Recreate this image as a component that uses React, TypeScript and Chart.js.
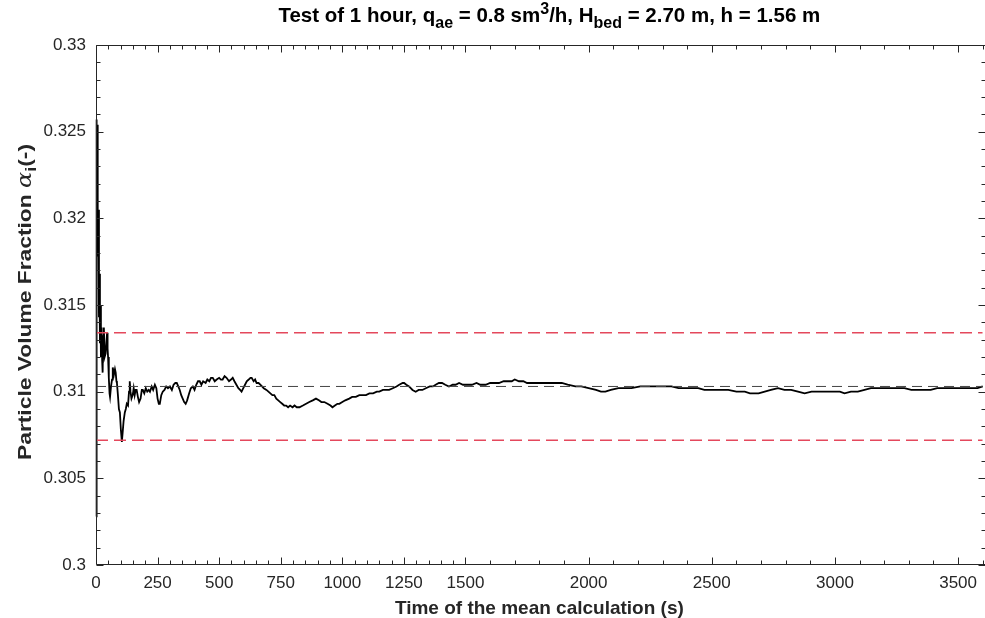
import { useEffect, useRef } from "react";
import { Chart, registerables } from "chart.js";

Chart.register(...registerables);

// Running mean of the particle volume fraction over the test hour
const TIME_S = [
  0, 1, 2, 3, 4, 5, 6, 7, 8, 10, 12, 14, 16, 18, 20, 23, 25, 27, 29, 32, 35, 39, 42, 45, 47, 49, 52, 55, 57, 61,
  65, 67, 69, 73, 77, 80, 83, 85, 89, 93, 97, 101, 105, 108, 112, 117, 121, 125, 130, 134, 137, 140, 144, 149, 153,
  157, 161, 165, 170, 175, 181, 186, 190, 196, 202, 208, 214, 219, 226, 232, 239, 245, 250, 255, 259, 265, 271, 278,
  285, 292, 300, 308, 315, 322, 328, 334, 340, 346, 352, 358, 364, 370, 378, 385, 393, 400, 407, 414, 421, 428, 435,
  445, 452, 460, 467, 474, 482, 490, 500, 507, 514, 522, 530, 540, 548, 555, 562, 570, 578, 585, 591, 598, 605, 612,
  620, 627, 632, 640, 646, 652, 660, 667, 674, 681, 692, 700, 708, 716, 724, 732, 740, 748, 756, 764, 772, 780, 788,
  798, 806, 815, 826, 840, 853, 866, 880, 893, 905, 915, 927, 940, 952, 960, 970, 980, 988, 1000, 1012, 1028, 1040,
  1055, 1069, 1080, 1096, 1110, 1125, 1140, 1150, 1165, 1180, 1190, 1205, 1220, 1231, 1245, 1251, 1260, 1271, 1285,
  1298, 1310, 1325, 1339, 1355, 1368, 1379, 1392, 1405, 1418, 1433, 1448, 1460, 1474, 1490, 1505, 1526, 1545, 1560,
  1582, 1600, 1620, 1636, 1655, 1670, 1688, 1700, 1717, 1735, 1750, 1769, 1790, 1810, 1838, 1860, 1891, 1915, 1946,
  1970, 2000, 2030, 2050, 2068, 2090, 2121, 2150, 2174, 2210, 2255, 2300, 2336, 2365, 2391, 2420, 2445, 2470, 2498,
  2530, 2567, 2600, 2634, 2655, 2668, 2690, 2715, 2740, 2769, 2795, 2822, 2850, 2877, 2905, 2931, 2960, 2999, 3020,
  3039, 3065, 3093, 3120, 3146, 3175, 3201, 3240, 3282, 3310, 3336, 3360, 3389, 3415, 3444, 3480, 3510, 3545, 3579,
  3600,
];

const FRACTION = [
  0.3028, 0.3045, 0.3235, 0.3257, 0.3215, 0.3254, 0.3185, 0.3232, 0.3178, 0.3205, 0.3143, 0.3168, 0.3128, 0.315,
  0.312, 0.3137, 0.3118, 0.3111, 0.3132, 0.3137, 0.312, 0.3122, 0.3128, 0.3134, 0.3125, 0.312, 0.3108, 0.3099,
  0.3097, 0.3103, 0.3107, 0.311, 0.3114, 0.311, 0.3113, 0.3111, 0.3106, 0.3105, 0.3098, 0.309, 0.3088, 0.3078,
  0.3071, 0.3076, 0.3083, 0.3088, 0.309, 0.3093, 0.3092, 0.31, 0.3106, 0.31, 0.3096, 0.3098, 0.3102, 0.3098, 0.3101,
  0.3101, 0.3097, 0.3094, 0.3096, 0.3101, 0.3101, 0.3099, 0.3102, 0.31, 0.3101, 0.31, 0.3103, 0.3101, 0.3104,
  0.3102, 0.3096, 0.3093, 0.3093, 0.3098, 0.31, 0.3101, 0.3103, 0.3102, 0.3103, 0.3101, 0.3104, 0.3105, 0.3105,
  0.3103, 0.3101, 0.3098, 0.3096, 0.3094, 0.3093, 0.3095, 0.3099, 0.3102, 0.3103, 0.3101, 0.3104, 0.3106, 0.3106,
  0.3104, 0.3106, 0.3105, 0.3107, 0.3106, 0.3108, 0.3108, 0.3106, 0.3107, 0.3108, 0.3107, 0.3107, 0.3109, 0.3108,
  0.3106, 0.3107, 0.3108, 0.3106, 0.3104, 0.3102, 0.3101, 0.31, 0.3102, 0.3104, 0.3106, 0.3107, 0.3108, 0.3108,
  0.3106, 0.3107, 0.3105, 0.3105, 0.3104, 0.3103, 0.3102, 0.3101, 0.31, 0.3099, 0.3098, 0.3098, 0.3096, 0.3095,
  0.3094, 0.3093, 0.3092, 0.3092, 0.3091, 0.3092, 0.3091, 0.3092, 0.3091, 0.3091, 0.3092, 0.3093, 0.3094, 0.3095,
  0.3096, 0.3095, 0.3094, 0.3094, 0.3093, 0.3092, 0.3091, 0.3092, 0.3093, 0.3093, 0.3094, 0.3095, 0.3096, 0.3097,
  0.3097, 0.3098, 0.3098, 0.3098, 0.3099, 0.3099, 0.31, 0.31, 0.3101, 0.3101, 0.3101, 0.3102, 0.3103, 0.3104,
  0.3105, 0.3105, 0.3104, 0.3103, 0.3101, 0.31, 0.3101, 0.3101, 0.3102, 0.3103, 0.3103, 0.3104, 0.3105, 0.3105,
  0.3104, 0.3103, 0.3104, 0.3104, 0.3105, 0.3104, 0.3104, 0.3104, 0.3105, 0.3104, 0.3104, 0.3105, 0.3105, 0.3105,
  0.3106, 0.3106, 0.3106, 0.3107, 0.3106, 0.3106, 0.3105, 0.3105, 0.3105, 0.3105, 0.3105, 0.3105, 0.3105, 0.3104,
  0.3103, 0.3103, 0.3102, 0.3101, 0.31, 0.31, 0.3101, 0.3102, 0.3102, 0.3102, 0.3103, 0.3103, 0.3103, 0.3103,
  0.3102, 0.3102, 0.3102, 0.3102, 0.3101, 0.3101, 0.3101, 0.3101, 0.31, 0.31, 0.3099, 0.3099, 0.3099, 0.31, 0.3101,
  0.3102, 0.3101, 0.3101, 0.31, 0.3099, 0.31, 0.31, 0.31, 0.31, 0.31, 0.3099, 0.31, 0.31, 0.3101, 0.3102, 0.3102,
  0.3102, 0.3102, 0.3102, 0.3101, 0.3101, 0.3101, 0.3101, 0.3102, 0.3102, 0.3102, 0.3102, 0.3102, 0.3102, 0.3103,
];

const MEAN_FRACTION = 0.3103;
const UPPER_BOUND = 0.3134; // mean + 1 %
const LOWER_BOUND = 0.3072; // mean - 1 %

const X_MIN = 0;
const X_MAX = 3600;
const X_TICKS = [0, 250, 500, 750, 1000, 1250, 1500, 2000, 2500, 3000, 3500];
const Y_MIN = 0.3;
const Y_MAX = 0.33;
const Y_TICKS = [0.3, 0.305, 0.31, 0.315, 0.32, 0.325, 0.33];

const FONT = "'Liberation Sans', Arial, Helvetica, sans-serif";
const AXIS_COLOR = "#262626";
const BOUND_COLOR = "#e4485c";

type Seg = { text: string; font: string; dy: number };

function drawRich(ctx: CanvasRenderingContext2D, segs: Seg[], cx: number, baseline: number) {
  let total = 0;
  const widths = segs.map((s) => {
    ctx.font = s.font;
    const w = ctx.measureText(s.text).width;
    total += w;
    return w;
  });
  let x = cx - total / 2;
  ctx.textAlign = "left";
  ctx.textBaseline = "alphabetic";
  segs.forEach((s, i) => {
    ctx.font = s.font;
    ctx.fillText(s.text, x, baseline + s.dy);
    x += widths[i];
  });
}

const frameAndLabels = {
  id: "frameAndLabels",
  afterDraw(chart: Chart) {
    const { ctx, chartArea } = chart;
    const xs = chart.scales.x;
    const ys = chart.scales.y;
    const L = chartArea.left + 0.5;
    // the right edge of the box sits just past the canvas edge
    const R = Math.max(chartArea.right, chart.width) + 0.5;
    const T = chartArea.top + 0.5;
    const B = chartArea.bottom - 0.5;
    ctx.save();
    ctx.strokeStyle = AXIS_COLOR;
    ctx.lineWidth = 1;
    ctx.beginPath();
    ctx.rect(L, T, R - L, B - T);
    ctx.stroke();

    const major = 7;
    const minor = 4;
    ctx.beginPath();
    // x ticks: 50 s minor spacing up to 1500 s, 100 s after
    const xMinor: number[] = [];
    for (let v = 0; v <= 1500; v += 50) xMinor.push(v);
    for (let v = 1600; v <= X_MAX; v += 100) xMinor.push(v);
    xMinor.forEach((v) => {
      const len = X_TICKS.includes(v) ? major : minor;
      const px = Math.round(xs.getPixelForValue(v)) + 0.5;
      ctx.moveTo(px, B);
      ctx.lineTo(px, B - len);
      ctx.moveTo(px, T);
      ctx.lineTo(px, T + len);
    });
    // y ticks: 0.001 minor spacing
    for (let k = 0; k <= 30; k++) {
      const v = Y_MIN + k * 0.001;
      const len = k % 5 === 0 ? major : minor;
      const py = Math.round(ys.getPixelForValue(v)) + 0.5;
      ctx.moveTo(L, py);
      ctx.lineTo(L + len, py);
      ctx.moveTo(R, py);
      ctx.lineTo(R - len, py);
    }
    ctx.stroke();

    ctx.fillStyle = "#000";
    const cx = (chartArea.left + chartArea.right) / 2;
    const t20 = `bold 20.5px ${FONT}`;
    const t16 = `bold 16px ${FONT}`;
    drawRich(
      ctx,
      [
        { text: "Test of 1 hour, q", font: t20, dy: 0 },
        { text: "ae", font: t16, dy: 6 },
        { text: " = 0.8 sm", font: t20, dy: 0 },
        { text: "3", font: t16, dy: -8 },
        { text: "/h, H", font: t20, dy: 0 },
        { text: "bed", font: t16, dy: 6 },
        { text: " = 2.70 m, h = 1.56 m", font: t20, dy: 0 },
      ],
      cx + 10,
      22
    );

    ctx.fillStyle = AXIS_COLOR;
    drawRich(ctx, [{ text: "Time of the mean calculation (s)", font: `bold 19px ${FONT}`, dy: 0 }], cx, 614);

    // y-axis title, drawn slightly elongated along its reading direction
    ctx.translate(31, (chartArea.top + chartArea.bottom) / 2 - 3);
    ctx.rotate(-Math.PI / 2);
    ctx.scale(1.2, 1);
    drawRich(
      ctx,
      [
        { text: "Particle Volume Fraction ", font: `bold 19px ${FONT}`, dy: 0 },
        { text: "α", font: `italic 20px 'DejaVu Serif', serif`, dy: 0 },
        { text: "i", font: `bold 15px ${FONT}`, dy: 5 },
        { text: "(-)", font: `bold 19px ${FONT}`, dy: 0 },
      ],
      0,
      0
    );
    ctx.restore();
  },
};

export default function App() {
  const ref = useRef<HTMLCanvasElement | null>(null);

  useEffect(() => {
    if (!ref.current) return;
    const series = TIME_S.map((t, i) => ({ x: t, y: FRACTION[i] }));
    const flat = (v: number) => [
      { x: X_MIN, y: v },
      { x: X_MAX, y: v },
    ];
    const chart = new Chart(ref.current, {
      type: "line",
      data: {
        datasets: [
          {
            data: flat(UPPER_BOUND),
            borderColor: BOUND_COLOR,
            borderWidth: 1.5,
            borderDash: [12, 6],
            pointRadius: 0,
          },
          {
            data: flat(LOWER_BOUND),
            borderColor: BOUND_COLOR,
            borderWidth: 1.5,
            borderDash: [12, 6],
            pointRadius: 0,
          },
          {
            data: flat(MEAN_FRACTION),
            borderColor: "#444",
            borderWidth: 1,
            borderDash: [10, 6],
            pointRadius: 0,
          },
          {
            data: series,
            borderColor: "#000",
            borderWidth: 1.8,
            pointRadius: 0,
            tension: 0,
            clip: 4,
          },
        ],
      },
      options: {
        responsive: false,
        animation: false,
        devicePixelRatio: 1,
        layout: { padding: { top: 45, right: 0, bottom: 0, left: 0 } },
        plugins: { legend: { display: false }, tooltip: { enabled: false }, title: { display: false } },
        scales: {
          x: {
            type: "linear",
            min: X_MIN,
            max: X_MAX,
            grid: { display: false, drawTicks: false },
            border: { display: false },
            ticks: {
              color: AXIS_COLOR,
              font: { family: FONT, size: 17 },
              padding: 8,
              maxRotation: 0,
              autoSkip: false,
              callback: (v) => String(v),
            },
            afterBuildTicks: (s: any) => {
              s.ticks = X_TICKS.map((value) => ({ value }));
            },
            afterFit: (s: any) => {
              s.height = 53;
            },
          },
          y: {
            type: "linear",
            min: Y_MIN,
            max: Y_MAX,
            grid: { display: false, drawTicks: false },
            border: { display: false },
            ticks: {
              color: AXIS_COLOR,
              font: { family: FONT, size: 17 },
              padding: 10,
              autoSkip: false,
              callback: (v) => String(Number(Number(v).toFixed(3))),
            },
            afterBuildTicks: (s: any) => {
              s.ticks = Y_TICKS.map((value) => ({ value }));
            },
            afterFit: (s: any) => {
              s.width = 96;
            },
          },
        },
      },
      plugins: [frameAndLabels],
    });
    return () => chart.destroy();
  }, []);

  return (
    <div style={{ position: "absolute", left: 0, top: 0, width: 985, height: 618, background: "#fff" }}>
      <canvas ref={ref} width={985} height={618} />
    </div>
  );
}
